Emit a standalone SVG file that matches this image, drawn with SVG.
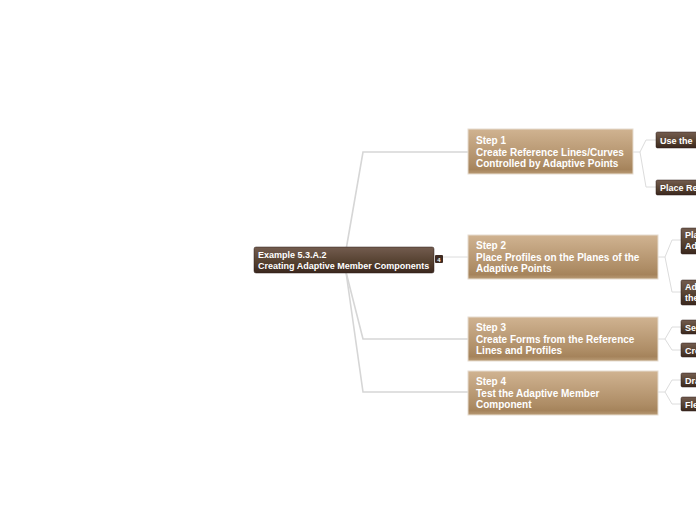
<svg xmlns="http://www.w3.org/2000/svg" width="696" height="520" viewBox="0 0 696 520">
<defs>
<linearGradient id="gStep" x1="0" y1="0" x2="0" y2="1">
<stop offset="0" stop-color="#d0b391"/>
<stop offset="0.75" stop-color="#ae8d66"/>
<stop offset="0.9" stop-color="#a5835b"/>
<stop offset="1" stop-color="#b99b76"/>
</linearGradient>
<linearGradient id="gDark" x1="0" y1="0" x2="0" y2="1">
<stop offset="0" stop-color="#735c4f"/>
<stop offset="0.6" stop-color="#54402f"/>
<stop offset="1" stop-color="#3a271e"/>
</linearGradient>
</defs>
<style>
.step{fill:url(#gStep);stroke:#e6dccf;stroke-width:1}
.dark{fill:url(#gDark);stroke:#2e1f18;stroke-width:0.5}
.t{font-family:"Liberation Sans",Arial,sans-serif;font-weight:bold;fill:#ffffff}
.ts{font-size:10px}
.tr{font-size:9px}
.tc{font-size:9px}
.c{fill:none;stroke:#dcdcdc;stroke-width:1}
.cr{fill:none;stroke:#d6d6d6;stroke-width:1.6}
</style>
<rect width="696" height="520" fill="#ffffff"/>
<g id="connectors">
<path class="cr" d="M346,250 L363,152 L468,152"/>
<path class="c" d="M442,257 L468,257"/>
<path class="cr" d="M346,272 L363,339 L468,339"/>
<path class="cr" d="M346,272 L363,392 L468,392"/>
<path class="c" d="M633,152 L640,152 L646,140 L656,140"/>
<path class="c" d="M640,152 L646,187 L656,187"/>
<path class="c" d="M658,257 L665,257 L672,240 L681,240"/>
<path class="c" d="M665,257 L672,292 L681,292"/>
<path class="c" d="M658,339 L665,339 L672,327 L681,327"/>
<path class="c" d="M665,339 L672,350 L681,350"/>
<path class="c" d="M658,392 L665,392 L672,380 L681,380"/>
<path class="c" d="M665,392 L672,404 L681,404"/>
</g>
<g id="root">
<rect class="dark" x="254" y="247" width="180" height="26" rx="2"/>
<text class="t tr" x="258" y="258">Example 5.3.A.2</text>
<text class="t tr" x="258" y="269">Creating Adaptive Member Components</text>
<rect x="435" y="255" width="8" height="8" rx="1" fill="#3e2b22"/>
<text class="t" x="439" y="261.5" font-size="6" text-anchor="middle">4</text>
</g>
<g id="step1">
<rect class="step" x="468" y="129" width="165" height="45"/>
<text class="t ts" x="476" y="144">Step 1</text>
<text class="t ts" x="476" y="155.5">Create Reference Lines/Curves</text>
<text class="t ts" x="476" y="167">Controlled by Adaptive Points</text>
</g>
<g id="step2">
<rect class="step" x="468" y="235" width="190" height="44"/>
<text class="t ts" x="476" y="249">Step 2</text>
<text class="t ts" x="476" y="260.5">Place Profiles on the Planes of the</text>
<text class="t ts" x="476" y="272">Adaptive Points</text>
</g>
<g id="step3">
<rect class="step" x="468" y="317" width="190" height="44"/>
<text class="t ts" x="476" y="331">Step 3</text>
<text class="t ts" x="476" y="342.5">Create Forms from the Reference</text>
<text class="t ts" x="476" y="354">Lines and Profiles</text>
</g>
<g id="step4">
<rect class="step" x="468" y="371" width="190" height="44"/>
<text class="t ts" x="476" y="385">Step 4</text>
<text class="t ts" x="476" y="396.5">Test the Adaptive Member</text>
<text class="t ts" x="476" y="408">Component</text>
</g>
<g id="c1a">
<rect class="dark" x="656" y="132" width="50" height="16" rx="1.5"/>
<text class="t tc" x="660" y="143.5">Use the</text>
</g>
<g id="c1b">
<rect class="dark" x="656" y="180" width="50" height="15" rx="1.5"/>
<text class="t tc" x="660" y="190.5">Place Re</text>
</g>
<g id="c2a">
<rect class="dark" x="681" y="228" width="25" height="26" rx="1.5"/>
<text class="t tc" x="685" y="238">Pla</text>
<text class="t tc" x="685" y="249">Ad</text>
</g>
<g id="c2b">
<rect class="dark" x="681" y="280" width="25" height="25" rx="1.5"/>
<text class="t tc" x="685" y="290">Ad</text>
<text class="t tc" x="685" y="301">the</text>
</g>
<g id="c3a">
<rect class="dark" x="681" y="320" width="25" height="14" rx="1.5"/>
<text class="t tc" x="685" y="330.5">Se</text>
</g>
<g id="c3b">
<rect class="dark" x="681" y="343" width="25" height="14" rx="1.5"/>
<text class="t tc" x="685" y="353.5">Cre</text>
</g>
<g id="c4a">
<rect class="dark" x="681" y="373" width="25" height="14" rx="1.5"/>
<text class="t tc" x="685" y="383.5">Dra</text>
</g>
<g id="c4b">
<rect class="dark" x="681" y="397" width="25" height="14" rx="1.5"/>
<text class="t tc" x="685" y="407.5">Fle</text>
</g>
</svg>
